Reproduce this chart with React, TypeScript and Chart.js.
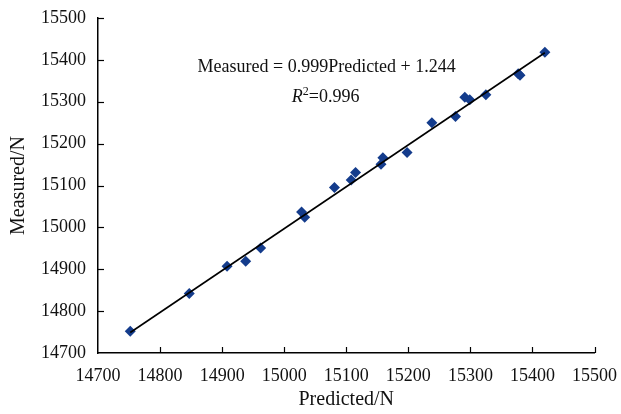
import React, { useEffect, useRef } from "react";
import { Chart, registerables } from "chart.js";

Chart.register(...registerables);

const predicted = [14752, 14847, 14908, 14938, 14962, 15028, 15033, 15081, 15108, 15115, 15156, 15159, 15198, 15238, 15276, 15291, 15299, 15325, 15377, 15380, 15420];
const measured = [14752, 14842, 14907, 14919, 14951, 15037, 15024, 15095, 15113, 15131, 15151, 15166, 15179, 15250, 15265, 15311, 15305, 15317, 15367, 15363, 15418];
const trendX = [14752, 15420];
const trendY = [14749, 15417];
const axisMin = 14700;
const axisMax = 15500;
const axisStep = 100;
const equationText = "Measured = 0.999Predicted + 1.244";
const r2Value = "=0.996";

const FONT = "'Liberation Serif', 'Times New Roman', serif";

const decorPlugin = {
  id: "decor",
  afterDraw(chart: any) {
    const ctx = chart.ctx;
    const xs = chart.scales.x;
    const ys = chart.scales.y;
    const area = chart.chartArea;
    ctx.save();
    ctx.strokeStyle = "#000";
    ctx.lineWidth = 1.2;
    xs.ticks.forEach((t: any) => {
      const px = Math.round(xs.getPixelForValue(t.value)) + 0.5;
      if (t.value === axisMin) return;
      ctx.beginPath();
      ctx.moveTo(px, area.bottom);
      ctx.lineTo(px, area.bottom - 6);
      ctx.stroke();
    });
    ys.ticks.forEach((t: any) => {
      const py = Math.round(ys.getPixelForValue(t.value)) + 0.5;
      if (t.value === axisMin) return;
      ctx.beginPath();
      ctx.moveTo(area.left, py);
      ctx.lineTo(area.left + 6, py);
      ctx.stroke();
    });
    ctx.fillStyle = "#111";
    ctx.font = `18px ${FONT}`;
    ctx.textBaseline = "alphabetic";
    ctx.textAlign = "center";
    const cx = area.left + (area.right - area.left) * 0.4605;
    ctx.fillText(equationText, cx, area.top + 54);
    ctx.textAlign = "left";
    ctx.font = `italic 18px ${FONT}`;
    const rW = ctx.measureText("R").width;
    ctx.font = `12px ${FONT}`;
    const sW = ctx.measureText("2").width;
    ctx.font = `18px ${FONT}`;
    const vW = ctx.measureText(r2Value).width;
    const total = rW + sW + vW;
    let x0 = cx - total / 2 - 1;
    const by = area.top + 84;
    ctx.font = `italic 18px ${FONT}`;
    ctx.fillText("R", x0, by);
    x0 += rW;
    ctx.font = `12px ${FONT}`;
    ctx.fillText("2", x0, by - 7);
    x0 += sW;
    ctx.font = `18px ${FONT}`;
    ctx.fillText(r2Value, x0, by);
    ctx.restore();
  },
};

export default function App() {
  const ref = useRef<HTMLCanvasElement | null>(null);
  useEffect(() => {
    if (!ref.current) return;
    Chart.defaults.font.family = FONT;
    const chart = new Chart(ref.current, {
      type: "scatter",
      data: {
        datasets: [
          {
            type: "line",
            label: "Trend",
            data: trendX.map((x, i) => ({ x, y: trendY[i] })),
            borderColor: "#000",
            borderWidth: 1.6,
            pointRadius: 0,
            fill: false,
          },
          {
            label: "Data",
            data: predicted.map((x, i) => ({ x, y: measured[i] })),
            pointStyle: "rectRot",
            pointRadius: 5.5,
            backgroundColor: "#143C8C",
            borderColor: "#143C8C",
            borderWidth: 0,
          },
        ],
      },
      options: {
        animation: false,
        responsive: false,
        layout: { padding: { top: 18, right: 24, left: 0, bottom: 0 } },
        plugins: { legend: { display: false }, tooltip: { enabled: false } },
        scales: {
          x: {
            type: "linear",
            min: axisMin,
            max: axisMax,
            ticks: { stepSize: axisStep, color: "#111", font: { size: 18, family: FONT }, padding: 4, maxRotation: 0, callback: (v: any) => String(v) },
            grid: { display: false },
            border: { display: true, color: "#000", width: 1.5 },
            title: { display: true, text: "Predicted/N", color: "#111", font: { size: 20, family: FONT }, padding: { top: 0, bottom: 2 } },
            afterFit: (s: any) => { s.height = 61; },
          },
          y: {
            type: "linear",
            min: axisMin,
            max: axisMax,
            ticks: { stepSize: axisStep, color: "#111", font: { size: 18, family: FONT }, padding: 4, callback: (v: any) => String(v) },
            grid: { display: false },
            border: { display: true, color: "#000", width: 1.5 },
            title: { display: true, text: "Measured/N", color: "#111", font: { size: 20, family: FONT }, padding: { top: 7, bottom: 0 } },
            afterFit: (s: any) => { s.width = 98; },
          },
        },
      },
      plugins: [decorPlugin],
    } as any);
    return () => chart.destroy();
  }, []);
  return (
    <div style={{ position: "absolute", left: 0, top: 0, width: 621, height: 414, background: "#fff" }}>
      <canvas ref={ref} width={621} height={414} style={{ width: 621, height: 414 }} />
    </div>
  );
}
